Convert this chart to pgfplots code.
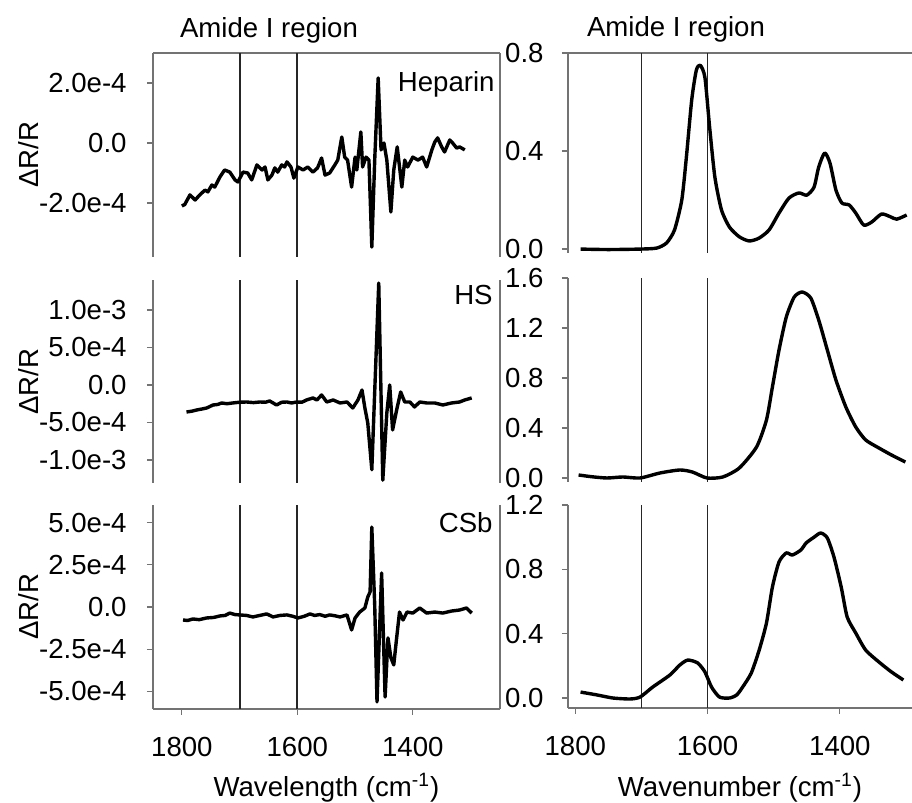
\documentclass[border=0pt]{standalone}
\usepackage{fontspec}
\setmainfont{Liberation Sans}
\usepackage{pgfplots}
\pgfplotsset{compat=1.18}
\newcommand\fs{\fontsize{13.8}{16}\selectfont}
\pgfplotsset{
  base/.style={scale only axis, anchor=south west, x dir=reverse, tick align=outside,
    major tick length=3pt, tick style={black!55, line width=0.6pt},
    axis line style={black!55, line width=0.7pt, -},
    ticklabel style={font=\fs, inner sep=0pt}, label style={font=\fs, inner sep=0pt},
    scaled y ticks=false, scaled x ticks=false,
    xticklabel style={yshift=-11pt},
    xtick=\empty, ytick pos=left, clip=true},
  L/.style={base, width=173.5pt, xmin=1249, xmax=1850, ylabel={ΔR/R},
    yticklabel style={xshift=-10pt},
    ylabel style={at={(axis description cs:-0.33,0.5)}, anchor=base}},
  R/.style={base, width=172pt, xmin=1291, xmax=1811, axis y line*=left,
    yticklabel style={xshift=-9pt}},
  data/.style={black, line width=1.7pt, line join=round},
  vline/.style={black!85, line width=0.9pt},
}
\begin{document}
\begin{tikzpicture}
\useasboundingbox (0,0) rectangle (456pt,401.5pt);
% ---------- left top: Heparin
\begin{axis}[L, at={(76.5pt,273pt)}, height=102pt, ymin=-3.8e-4, ymax=3.0e-4,
  axis x line*=top, ytick={-2e-4,0,2e-4}, yticklabels={-2.0e-4,0.0,2.0e-4}]
\addplot[vline] coordinates {(1700,-3.8e-4) (1700,3.0e-4)};
\addplot[vline] coordinates {(1600,-3.8e-4) (1600,3.0e-4)};
\addplot[data] coordinates {(1800,-2.1e-4)(1795,-2.05e-4)(1786,-1.73e-4)(1777,-1.9e-4)(1769,-1.73e-4)(1760,-1.57e-4)(1755,-1.63e-4)(1748,-1.4e-4)(1743,-1.47e-4)(1734,-1.13e-4)(1726,-0.9e-4)(1717,-0.97e-4)(1708,-1.23e-4)(1703,-1.3e-4)(1694,-0.97e-4)(1686,-1.0e-4)(1679,-1.23e-4)(1670,-0.73e-4)(1661,-0.9e-4)(1656,-0.8e-4)(1651,-1.23e-4)(1644,-1.07e-4)(1639,-0.83e-4)(1634,-0.97e-4)(1627,-0.73e-4)(1622,-0.8e-4)(1618,-0.63e-4)(1611,-0.8e-4)(1606,-1.17e-4)(1599,-0.8e-4)(1590,-0.9e-4)(1582,-0.8e-4)(1573,-0.97e-4)(1565,-0.83e-4)(1558,-0.5e-4)(1552,-1.07e-4)(1544,-1.0e-4)(1535,-0.73e-4)(1530,-0.57e-4)(1523,0.2e-4)(1518,-0.47e-4)(1513,-0.57e-4)(1506,-1.47e-4)(1500,-0.47e-4)(1497,-0.9e-4)(1490,0.37e-4)(1487,-0.8e-4)(1481,-0.47e-4)(1476,-0.57e-4)(1471,-3.47e-4)(1466,-0.57e-4)(1460,2.17e-4)(1455,-0.23e-4)(1450,0)(1445,-0.57e-4)(1438,-2.3e-4)(1433,-0.9e-4)(1427,-0.13e-4)(1419,-1.47e-4)(1414,-0.57e-4)(1409,-0.8e-4)(1400,-0.47e-4)(1391,-0.57e-4)(1383,-0.47e-4)(1376,-0.8e-4)(1367,-0.23e-4)(1362,0.03e-4)(1357,0.17e-4)(1350,-0.13e-4)(1345,-0.3e-4)(1336,0.1e-4)(1331,0)(1324,-0.17e-4)(1319,-0.13e-4)(1310,-0.23e-4)};
\end{axis}
% ---------- left middle: HS
\begin{axis}[L, at={(76.5pt,160pt)}, height=101.5pt, ymin=-1.307e-3, ymax=1.4e-3,
  axis x line=none, ytick={-1e-3,-5e-4,0,5e-4,1e-3}, yticklabels={-1.0e-3,-5.0e-4,0.0,5.0e-4,1.0e-3}]
\addplot[vline] coordinates {(1700,-1.307e-3) (1700,1.4e-3)};
\addplot[vline] coordinates {(1600,-1.307e-3) (1600,1.4e-3)};
\addplot[data] coordinates {(1792,-3.6e-4)(1783,-3.5e-4)(1774,-3.33e-4)(1765,-3.2e-4)(1757,-3.07e-4)(1746,-2.67e-4)(1738,-2.6e-4)(1731,-2.4e-4)(1722,-2.5e-4)(1712,-2.4e-4)(1700,-2.3e-4)(1688,-2.27e-4)(1676,-2.35e-4)(1665,-2.27e-4)(1655,-2.3e-4)(1648,-2.13e-4)(1636,-2.67e-4)(1627,-2.3e-4)(1618,-2.27e-4)(1610,-2.4e-4)(1601,-2.27e-4)(1592,-2.3e-4)(1584,-2.0e-4)(1573,-1.73e-4)(1566,-2.0e-4)(1558,-1.33e-4)(1549,-2.27e-4)(1538,-2.0e-4)(1526,-2.4e-4)(1514,-2.27e-4)(1504,-3.07e-4)(1495,-2.0e-4)(1488,-0.67e-4)(1483,-3.07e-4)(1478,-5.07e-4)(1471,-11.3e-4)(1459,13.6e-4)(1452,-12.7e-4)(1445,-3.73e-4)(1440,0)(1435,-6.0e-4)(1428,-3.33e-4)(1421,-0.93e-4)(1414,-2.27e-4)(1405,-2.27e-4)(1397,-2.93e-4)(1388,-2.27e-4)(1376,-2.4e-4)(1362,-2.4e-4)(1348,-2.67e-4)(1333,-2.4e-4)(1319,-2.27e-4)(1310,-2.0e-4)(1298,-1.73e-4)};
\end{axis}
% ---------- left bottom: CSb
\begin{axis}[L, at={(76.5pt,47pt)}, height=102pt, ymin=-6.04e-4, ymax=6.04e-4,
  axis x line*=bottom, ytick={-5e-4,-2.5e-4,0,2.5e-4,5e-4}, yticklabels={-5.0e-4,-2.5e-4,0.0,2.5e-4,5.0e-4},
  xtick={1800,1600,1400}, xticklabels={1800,1600,1400},
  xlabel={Wavelength (cm\textsuperscript{-1})},
  xlabel style={at={(axis description cs:0.5,0)}, anchor=base, yshift=-44pt}]
\addplot[vline] coordinates {(1700,-6.04e-4) (1700,6.04e-4)};
\addplot[vline] coordinates {(1600,-6.04e-4) (1600,6.04e-4)};
\addplot[data] coordinates {(1798,-0.77e-4)(1790,-0.8e-4)(1781,-0.71e-4)(1770,-0.75e-4)(1757,-0.65e-4)(1745,-0.62e-4)(1734,-0.53e-4)(1725,-0.5e-4)(1717,-0.36e-4)(1708,-0.45e-4)(1700,-0.47e-4)(1688,-0.5e-4)(1677,-0.59e-4)(1665,-0.5e-4)(1653,-0.41e-4)(1642,-0.59e-4)(1630,-0.5e-4)(1618,-0.47e-4)(1608,-0.55e-4)(1599,-0.65e-4)(1588,-0.55e-4)(1578,-0.41e-4)(1570,-0.5e-4)(1561,-0.45e-4)(1552,-0.55e-4)(1544,-0.47e-4)(1535,-0.52e-4)(1526,-0.59e-4)(1514,-0.47e-4)(1506,-1.36e-4)(1500,-0.65e-4)(1492,-0.3e-4)(1483,-0.06e-4)(1478,0.59e-4)(1474,0.89e-4)(1471,4.73e-4)(1466,0.12e-4)(1462,-5.62e-4)(1454,2.01e-4)(1448,-5.33e-4)(1443,-1.83e-4)(1438,-3.0e-4)(1433,-3.43e-4)(1428,-1.83e-4)(1423,-0.3e-4)(1417,-0.77e-4)(1410,-0.3e-4)(1400,-0.36e-4)(1388,-0.06e-4)(1376,-0.36e-4)(1362,-0.3e-4)(1348,-0.36e-4)(1333,-0.24e-4)(1319,-0.18e-4)(1307,-0.06e-4)(1298,-0.36e-4)};
\end{axis}
% ---------- right top
\begin{axis}[R, at={(284pt,275pt)}, height=100pt, ymin=-0.016, ymax=0.8,
  axis x line*=top, ytick={0,0.4,0.8}, yticklabels={0.0,0.4,0.8}]
\addplot[vline] coordinates {(1700,-0.016) (1700,0.8)};
\addplot[vline] coordinates {(1600,-0.016) (1600,0.8)};
\addplot[data, smooth, tension=0.4] coordinates {(1792,0.0)(1750,-0.002)(1702,0.0)(1677,0.004)(1662,0.025)(1650,0.078)(1639,0.2)(1632,0.376)(1624,0.608)(1617,0.73)(1611,0.75)(1604,0.70)(1597,0.50)(1589,0.294)(1579,0.16)(1567,0.09)(1552,0.05)(1537,0.033)(1522,0.045)(1507,0.078)(1492,0.147)(1477,0.208)(1462,0.229)(1450,0.22)(1439,0.253)(1432,0.335)(1423,0.392)(1415,0.351)(1406,0.241)(1397,0.188)(1386,0.18)(1376,0.147)(1364,0.098)(1352,0.11)(1337,0.143)(1323,0.131)(1314,0.122)(1299,0.139)};
\end{axis}
% ---------- right middle
\begin{axis}[R, at={(284pt,160.5pt)}, height=102pt, ymin=-0.032, ymax=1.6,
  axis x line=none, ytick={0,0.4,0.8,1.2,1.6}, yticklabels={0.0,0.4,0.8,1.2,1.6}]
\addplot[vline] coordinates {(1700,-0.032) (1700,1.6)};
\addplot[vline] coordinates {(1600,-0.032) (1600,1.6)};
\addplot[data, smooth, tension=0.4] coordinates {(1795,0.024)(1775,0.01)(1752,0.0)(1728,0.008)(1702,0.0)(1672,0.04)(1642,0.064)(1623,0.048)(1601,0.0)(1577,0.008)(1552,0.08)(1526,0.248)(1511,0.464)(1502,0.728)(1492,1.024)(1481,1.288)(1469,1.448)(1457,1.488)(1444,1.44)(1432,1.264)(1419,1.024)(1406,0.784)(1391,0.568)(1376,0.408)(1361,0.304)(1341,0.24)(1322,0.184)(1301,0.128)};
\end{axis}
% ---------- right bottom
\begin{axis}[R, at={(284pt,47.5pt)}, height=101.5pt, ymin=-0.062, ymax=1.2,
  axis x line*=bottom, ytick={0,0.4,0.8,1.2}, yticklabels={0.0,0.4,0.8,1.2},
  xtick={1800,1600,1400}, xticklabels={1800,1600,1400},
  xlabel={Wavenumber (cm\textsuperscript{-1})},
  xlabel style={at={(axis description cs:0.5,0)}, anchor=base, yshift=-44.5pt}]
\addplot[vline] coordinates {(1700,-0.062) (1700,1.2)};
\addplot[vline] coordinates {(1600,-0.062) (1600,1.2)};
\addplot[data, smooth, tension=0.4] coordinates {(1792,0.037)(1767,0.019)(1743,0.0)(1717,-0.006)(1702,0.006)(1683,0.068)(1657,0.143)(1642,0.205)(1630,0.236)(1615,0.218)(1604,0.162)(1594,0.068)(1582,0.006)(1567,0.0)(1556,0.019)(1547,0.068)(1534,0.155)(1522,0.298)(1511,0.466)(1502,0.69)(1492,0.846)(1481,0.902)(1472,0.889)(1459,0.92)(1451,0.964)(1439,1.0)(1429,1.026)(1419,0.995)(1409,0.877)(1398,0.69)(1389,0.504)(1376,0.404)(1361,0.298)(1341,0.224)(1322,0.162)(1304,0.112)};
\end{axis}
% ---------- annotations
\node[anchor=base, font=\fs] at (134.5pt,382.9pt) {Amide I region};
\node[anchor=base, font=\fs] at (338pt,383.2pt) {Amide I region};
\node[anchor=base east, font=\fs, inner sep=0pt] at (247.5pt,355.5pt) {Heparin};
\node[anchor=base east, font=\fs, inner sep=0pt] at (246.5pt,249pt) {HS};
\node[anchor=base east, font=\fs, inner sep=0pt] at (246.5pt,135pt) {CSb};
\end{tikzpicture}
\end{document}
